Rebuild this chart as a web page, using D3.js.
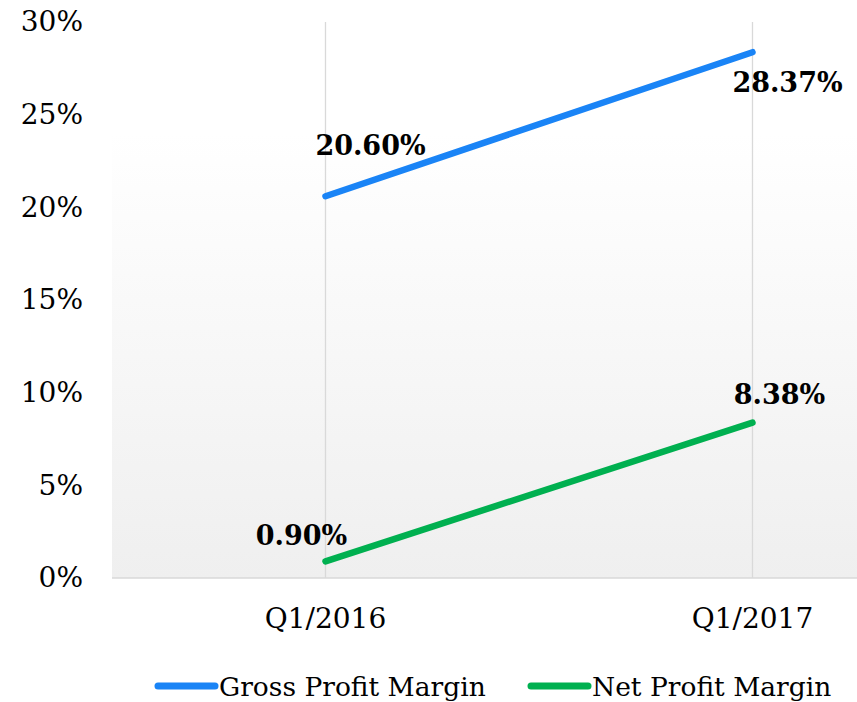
<!DOCTYPE html>
<html>
<head>
<meta charset="utf-8">
<script src="https://cdn.jsdelivr.net/npm/d3@7"></script>
<style>
  html, body { margin: 0; padding: 0; background: #fff; }
  svg text { font-family: "DejaVu Serif", serif; fill: #000; }
</style>
</head>
<body>
<div id="chart"></div>
<script>
// categorie e serie
const periodi = ['Q1/2016', 'Q1/2017'];
const grossMargin = [20.60, 28.37];
const netMargin = [0.90, 8.38];
const yTicks = [0, 5, 10, 15, 20, 25, 30];
const serieNomi = ['Gross Profit Margin', 'Net Profit Margin'];
const serieColori = ['#1a84f6', '#00b050'];

const width = 857, height = 702;
// area del grafico: tagliata a destra come nell'originale
const plot = { left: 112, right: 966, top: 22, bottom: 578 };

const svg = d3.select('#chart').append('svg')
    .attr('width', width)
    .attr('height', height);

// sfondo a gradiente (bianco in alto, grigio chiaro in basso)
const defs = svg.append('defs');
const grad = defs.append('linearGradient')
    .attr('id', 'bg')
    .attr('x1', 0).attr('y1', 0).attr('x2', 0).attr('y2', 1);
grad.append('stop').attr('offset', '0%').attr('stop-color', '#ffffff');
grad.append('stop').attr('offset', '20%').attr('stop-color', '#ffffff');
grad.append('stop').attr('offset', '100%').attr('stop-color', '#efefef');

svg.append('rect')
    .attr('x', plot.left).attr('y', plot.top)
    .attr('width', width - plot.left).attr('height', plot.bottom - plot.top)
    .attr('fill', 'url(#bg)');

const x = d3.scaleBand()
    .domain(periodi)
    .range([plot.left, plot.right]);
const xc = d => x(d) + x.bandwidth() / 2;

const y = d3.scaleLinear()
    .domain([0, 30])
    .range([plot.bottom, plot.top]);

// griglia verticale sulle categorie
svg.append('g')
    .selectAll('line')
    .data(periodi)
    .join('line')
    .attr('x1', d => xc(d)).attr('x2', d => xc(d))
    .attr('y1', y(30)).attr('y2', plot.bottom)
    .attr('stroke', '#d9d9d9')
    .attr('stroke-width', 1.3);

// asse y (solo etichette)
const yAxis = svg.append('g')
    .attr('transform', `translate(${plot.left},0)`)
    .call(d3.axisLeft(y).tickValues(yTicks).tickFormat(d => d + '%').tickSize(0).tickPadding(29));
yAxis.select('.domain').remove();
yAxis.selectAll('text')
    .style('font-family', '"DejaVu Serif", serif')
    .style('font-size', '28px')
    .attr('fill', '#000');

// asse x
const xAxis = svg.append('g')
    .attr('transform', `translate(0,${plot.bottom})`)
    .call(d3.axisBottom(x).tickSize(0).tickPadding(30));
xAxis.select('.domain').remove();
xAxis.selectAll('text')
    .style('font-family', '"DejaVu Serif", serif')
    .style('font-size', '28px')
    .attr('fill', '#000');

// linea di base
svg.append('line')
    .attr('x1', plot.left).attr('x2', width)
    .attr('y1', plot.bottom).attr('y2', plot.bottom)
    .attr('stroke', '#d9d9d9')
    .attr('stroke-width', 1.5);

const serie = [grossMargin, netMargin].map((vals, i) => ({
    nome: serieNomi[i],
    colore: serieColori[i],
    punti: vals.map((v, j) => ({ periodo: periodi[j], valore: v }))
}));

const lineGen = d3.line()
    .x(d => xc(d.periodo))
    .y(d => y(d.valore));

svg.append('g')
    .selectAll('path')
    .data(serie)
    .join('path')
    .attr('fill', 'none')
    .attr('stroke', d => d.colore)
    .attr('stroke-width', 6.5)
    .attr('stroke-linecap', 'round')
    .attr('d', d => lineGen(d.punti));

// etichette dati: spostamento rispetto al punto come in Excel
const offsetEtichette = [
    [{ dx: 45, dy: -41 }, { dx: 35, dy: 40 }],
    [{ dx: -24, dy: -16 }, { dx: 27, dy: -19 }]
];
serie.forEach((s, i) => {
    svg.append('g')
        .selectAll('text')
        .data(s.punti)
        .join('text')
        .attr('x', (d, j) => xc(d.periodo) + offsetEtichette[i][j].dx)
        .attr('y', (d, j) => y(d.valore) + offsetEtichette[i][j].dy)
        .attr('text-anchor', 'middle')
        .style('font-size', '27px')
        .style('font-weight', '700')
        .text(d => d.valore.toFixed(2) + '%');
});

// legenda in basso
const legendaX = [158, 531];
const legenda = svg.append('g');
serie.forEach((s, i) => {
    const g = legenda.append('g')
        .attr('transform', `translate(${legendaX[i]},686)`);
    g.append('line')
        .attr('x1', 0).attr('x2', 57)
        .attr('y1', 0).attr('y2', 0)
        .attr('stroke', s.colore)
        .attr('stroke-width', 7)
        .attr('stroke-linecap', 'round');
    g.append('text')
        .attr('x', 61).attr('y', 10)
        .style('font-size', '26.5px')
        .text(s.nome);
});
</script>
</body>
</html>
